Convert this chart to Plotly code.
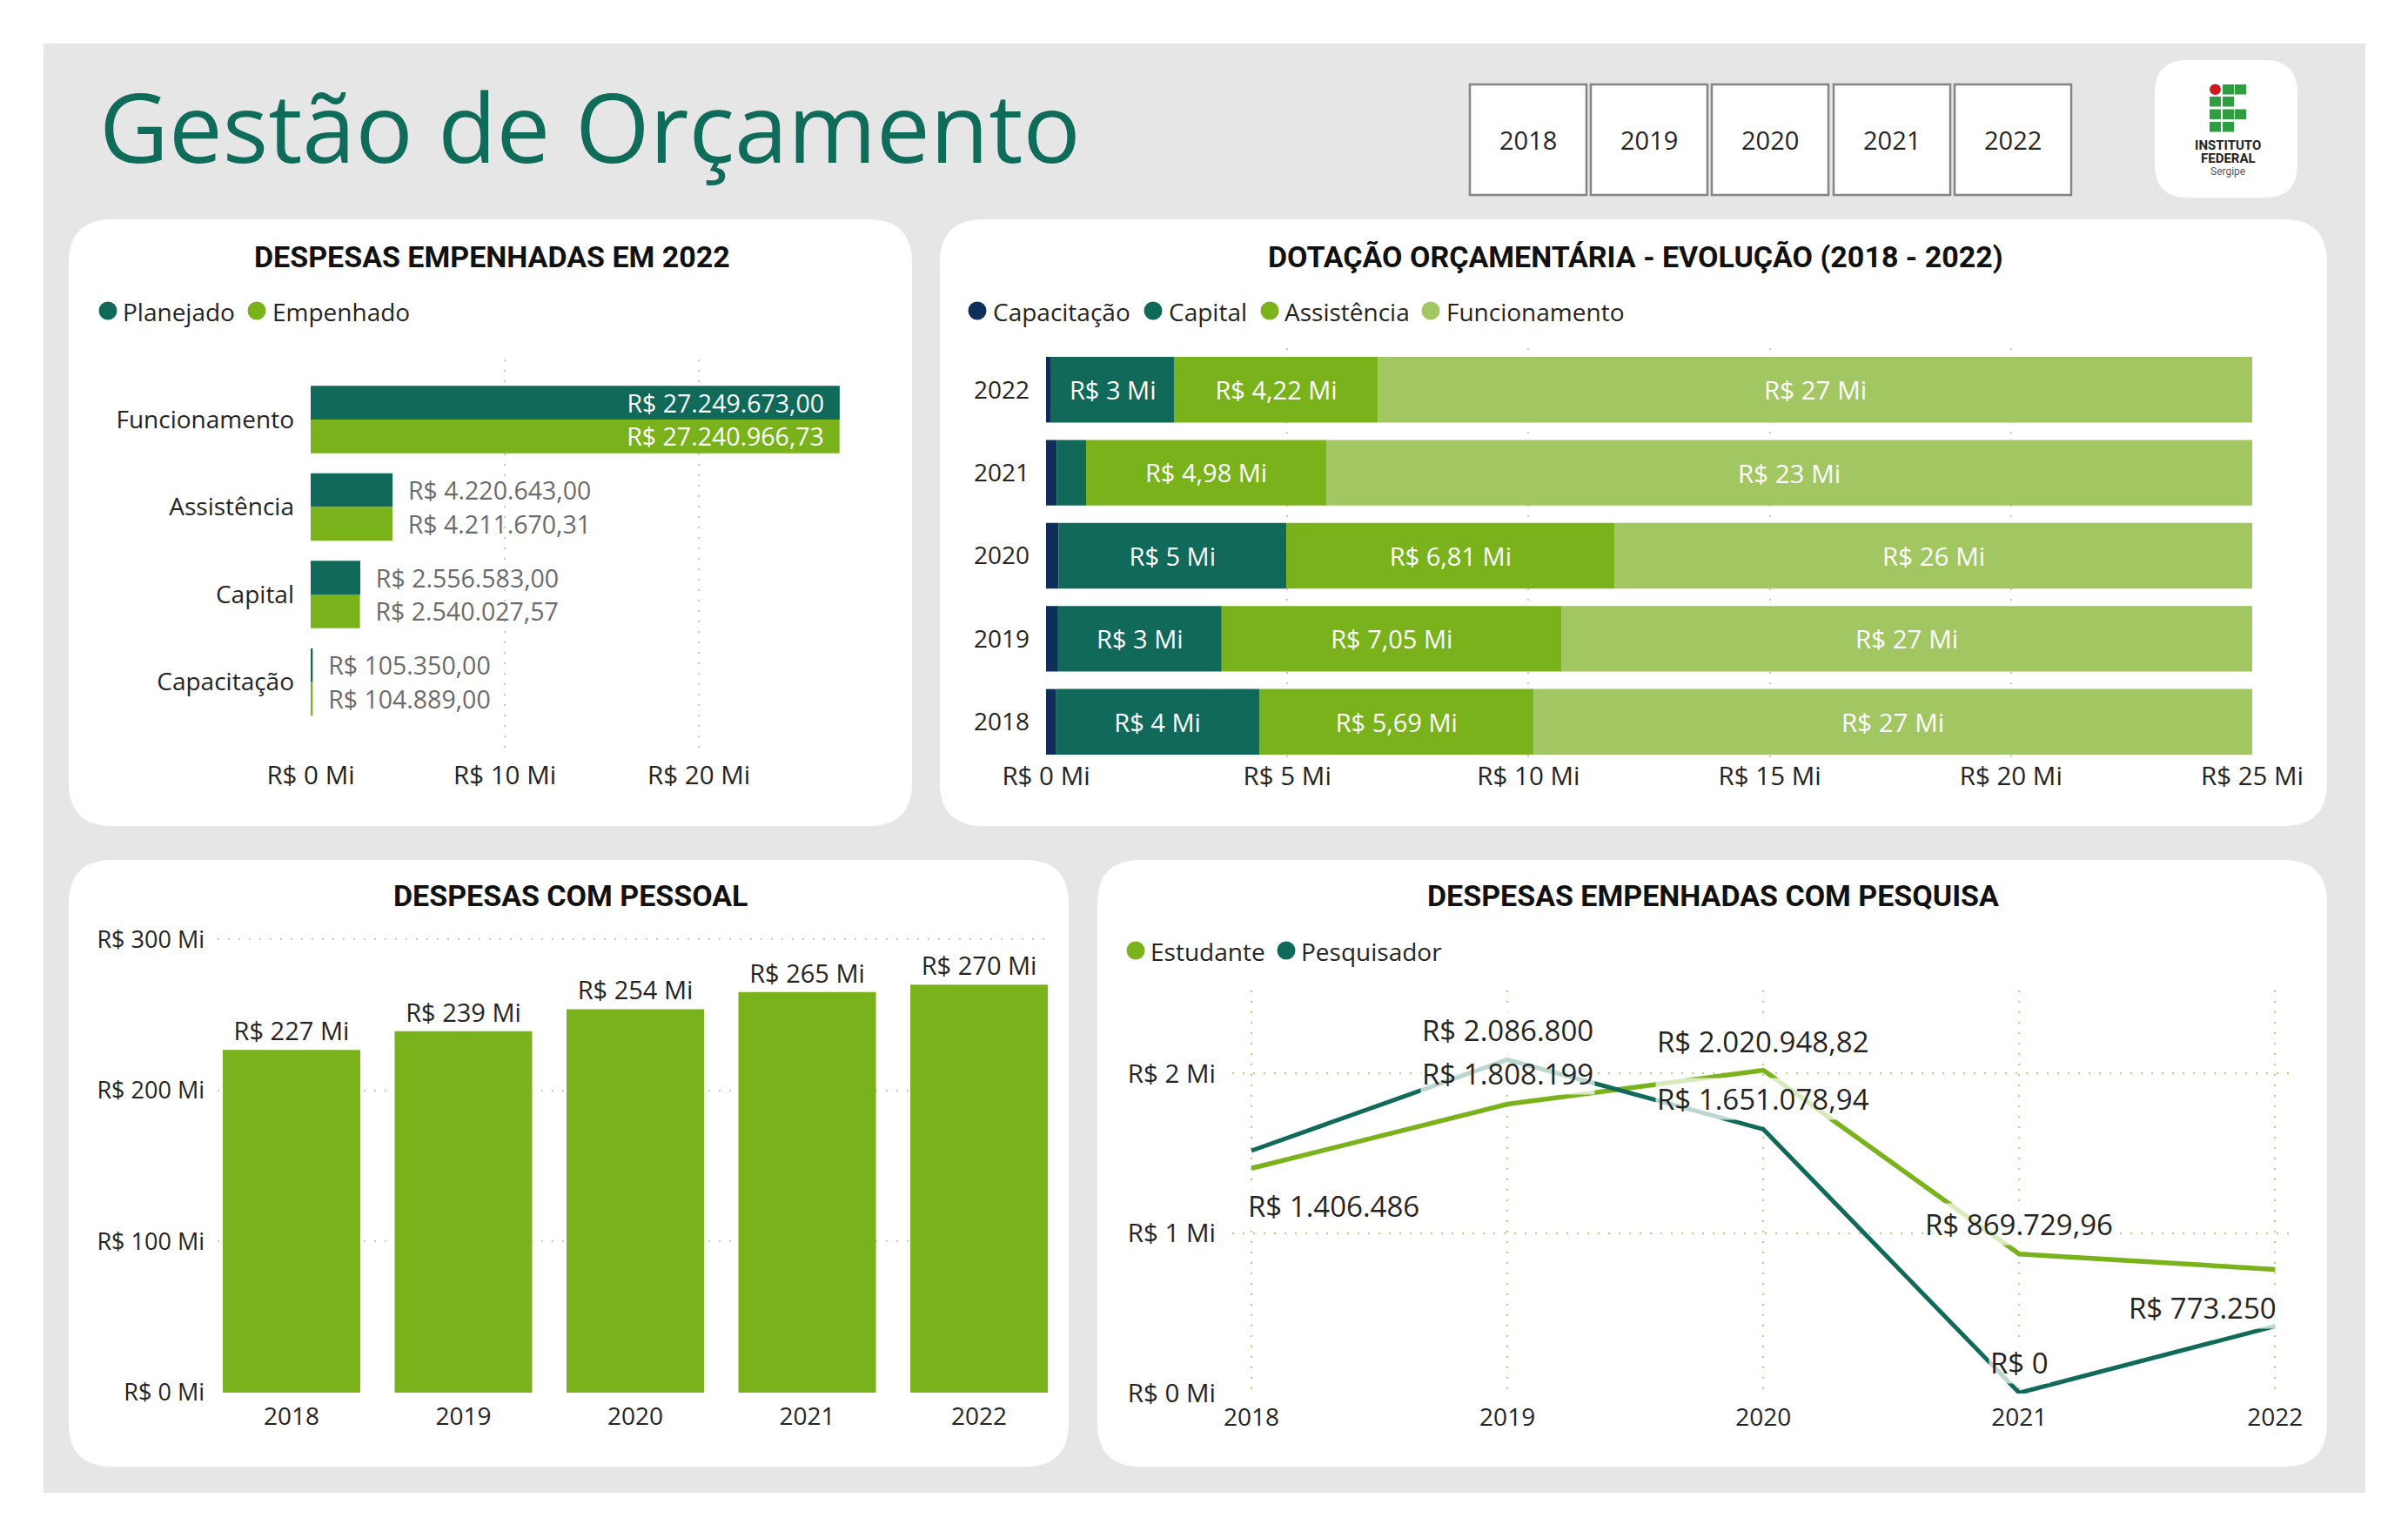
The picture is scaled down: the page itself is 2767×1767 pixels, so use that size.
import plotly.graph_objects as go
import numpy as np

W, H = 2767, 1767

# ------------------------------------------------------------------ DATA
years = [2018, 2019, 2020, 2021, 2022]
year_labels = ["2018", "2019", "2020", "2021", "2022"]

# Despesas empenhadas em 2022 (R$)
cat_empenho = ["Funcionamento", "Assistência", "Capital", "Capacitação"]
planejado_2022 = [27249673.00, 4220643.00, 2556583.00, 105350.00]
empenhado_2022 = [27240966.73, 4211670.31, 2540027.57, 104889.00]
ticks_empenho = [0, 10e6, 20e6]
ticklbl_empenho = ["R$ 0 Mi", "R$ 10 Mi", "R$ 20 Mi"]

# Dotação orçamentária - evolução (R$ Mi)
dot_capacitacao = [0.20, 0.25, 0.26, 0.22, 0.105]
dot_capital = [4.22, 3.39, 4.72, 0.61, 2.557]
dot_assistencia = [5.69, 7.05, 6.81, 4.98, 4.22]
dot_funcionamento = [27.1, 26.9, 26.2, 23.1, 27.25]
dot_axis_max = 25
ticks_dot = [0, 5, 10, 15, 20, 25]
ticklbl_dot = ["R$ 0 Mi", "R$ 5 Mi", "R$ 10 Mi", "R$ 15 Mi", "R$ 20 Mi", "R$ 25 Mi"]

# Despesas com pessoal (R$ Mi)
pessoal = [227.0, 239.3, 253.9, 265.2, 270.2]
ticks_pessoal = [0, 100, 200, 300]
ticklbl_pessoal = ["R$ 0 Mi", "R$ 100 Mi", "R$ 200 Mi", "R$ 300 Mi"]

# Despesas empenhadas com pesquisa (R$)
estudante = [1406486, 1808199, 2020948.82, 869729.96, 773250]
pesquisador = [1517000, 2086800, 1651078.94, 0, 418000]
ticks_pesquisa = [0, 1e6, 2e6]
ticklbl_pesquisa = ["R$ 0 Mi", "R$ 1 Mi", "R$ 2 Mi"]

# ------------------------------------------------------------------ STYLE
TEAL = "#116959"
NAVY = "#0f2e5a"
LIME = "#7ab21b"
LIGHT = "#a2c662"
TXT = "#252423"
GRAYTXT = "#6b6b6b"
GRID = "#c8c8c8"
GRID_G = "#b0d47a"
BODY = "Open Sans, Noto Sans, sans-serif"
HEAD = "Roboto, sans-serif"


def px(x):
    return x / W


def py(y):
    return 1 - y / H


def brl(v, dec=None):
    if dec is None:
        dec = 0 if float(v) == int(v) else 2
    s = f"{v:,.{dec}f}"
    s = s.replace(",", "#").replace(".", ",").replace("#", ".")
    return "R$ " + s


def mi(v, dec):
    return "R$ " + f"{v:.{dec}f}".replace(".", ",") + " Mi"


def rrect(x0, y0, x1, y1, r):
    p = [
        f"M{px(x0 + r)},{py(y0)}", f"L{px(x1 - r)},{py(y0)}",
        f"Q{px(x1)},{py(y0)} {px(x1)},{py(y0 + r)}", f"L{px(x1)},{py(y1 - r)}",
        f"Q{px(x1)},{py(y1)} {px(x1 - r)},{py(y1)}", f"L{px(x0 + r)},{py(y1)}",
        f"Q{px(x0)},{py(y1)} {px(x0)},{py(y1 - r)}", f"L{px(x0)},{py(y0 + r)}",
        f"Q{px(x0)},{py(y0)} {px(x0 + r)},{py(y0)}", "Z",
    ]
    return " ".join(p)


def ptext(x, y, text, size, color=TXT, family=BODY, weight=400, xanchor="center"):
    return dict(x=px(x), y=py(y), xref="paper", yref="paper", text=text, showarrow=False,
                xanchor=xanchor, yanchor="middle",
                font=dict(color=color, size=size, family=family, weight=weight))


fig = go.Figure()

# ------------------------------------------------------------------ CHART 1
NB = "\u00a0\u00a0"
pos1 = ["inside"] + ["outside"] * 3
for vals, col, off in [(planejado_2022, TEAL, -0.385), (empenhado_2022, LIME, 0.0)]:
    txt = [brl(v, 2) + NB if i == 0 else NB + brl(v, 2) for i, v in enumerate(vals)]
    fig.add_trace(go.Bar(
        y=cat_empenho, x=vals, orientation="h", xaxis="x", yaxis="y",
        width=0.385, offset=off, marker=dict(color=col, line=dict(width=0)),
        text=txt, textposition=pos1, insidetextanchor="end", textangle=0,
        constraintext="none",
        insidetextfont=dict(color="white", size=28.5, family=BODY),
        outsidetextfont=dict(color=GRAYTXT, size=28.5, family=BODY),
        hoverinfo="skip"))

# ------------------------------------------------------------------ CHART 2
series2 = [("Capacitação", dot_capacitacao, NAVY, None),
           ("Capital", dot_capital, TEAL, 0),
           ("Assistência", dot_assistencia, LIME, 2),
           ("Funcionamento", dot_funcionamento, LIGHT, None)]
base = np.zeros(len(years))
fun_ann = []
for name, vals, col, dec in series2:
    vals = np.array(vals, dtype=float)
    txt = [mi(v, dec) for v in vals] if dec is not None else None
    fig.add_trace(go.Bar(
        y=years, x=vals, base=base.copy(), orientation="h", xaxis="x2", yaxis="y2",
        width=0.79, marker=dict(color=col, line=dict(width=0)), name=name,
        text=txt, textposition="inside" if txt else "none",
        insidetextanchor="middle", textangle=0,
        insidetextfont=dict(color="white", size=29.5, family=BODY),
        hoverinfo="skip"))
    if name == "Funcionamento":
        for yv, b, v in zip(years, base, vals):
            vis_end = min(b + v, dot_axis_max)
            fun_ann.append(dict(x=float((b + vis_end) / 2), y=yv, xref="x2", yref="y2",
                                text=mi(v, 0), showarrow=False, xanchor="center", yanchor="middle",
                                font=dict(color="white", size=29.5, family=BODY)))
    base = base + vals

# ------------------------------------------------------------------ CHART 3
fig.add_trace(go.Bar(
    x=years, y=pessoal, xaxis="x3", yaxis="y3", width=0.8,
    marker=dict(color=LIME, line=dict(width=0)),
    text=[mi(v, 0) for v in pessoal], textposition="outside", textangle=0,
    outsidetextfont=dict(color=TXT, size=29, family=BODY), cliponaxis=False,
    hoverinfo="skip"))

# ------------------------------------------------------------------ CHART 4
fig.add_trace(go.Scatter(x=years, y=estudante, xaxis="x4", yaxis="y4", mode="lines",
                         line=dict(color=LIME, width=5.5), name="Estudante", hoverinfo="skip"))
fig.add_trace(go.Scatter(x=years, y=pesquisador, xaxis="x4", yaxis="y4", mode="lines",
                         line=dict(color=TEAL, width=5), name="Pesquisador", hoverinfo="skip"))

label_specs = [  # (series, index, xanchor, yanchor, xshift, yshift)
    (pesquisador, 1, "center", "bottom", 0, 9),
    (estudante, 1, "center", "bottom", 0, 11),
    (estudante, 2, "center", "bottom", 0, 9),
    (pesquisador, 2, "center", "bottom", 0, 10),
    (estudante, 0, "left", "top", -6, -19),
    (estudante, 3, "center", "bottom", 0, 10),
    (pesquisador, 3, "center", "bottom", 0, 10),
    (estudante, 4, "right", "top", 4, -20),
]
line_ann = []
for ser, i, xa, ya, xs, ys in label_specs:
    line_ann.append(dict(x=years[i], y=ser[i], xref="x4", yref="y4", text=brl(ser[i]),
                         showarrow=False, xanchor=xa, yanchor=ya, xshift=xs, yshift=ys,
                         bgcolor="rgba(255,255,255,0.72)", borderpad=1,
                         font=dict(color=TXT, size=33, family=BODY)))

# ------------------------------------------------------------------ SHAPES
shapes = []
shapes.append(dict(type="rect", xref="paper", yref="paper", x0=px(50), x1=px(2718),
                   y0=py(1715), y1=py(50), fillcolor="#e6e6e6", line=dict(width=0), layer="below"))
for (x0, y0, x1, y1) in [(79, 252, 1048, 949), (1080, 252, 2674, 949),
                         (79, 988, 1228, 1685), (1261, 988, 2674, 1685)]:
    shapes.append(dict(type="path", xref="paper", yref="paper", path=rrect(x0, y0, x1, y1, 50),
                       fillcolor="white", line=dict(width=0), layer="below"))
# year slicer buttons
btn_x = [1689, 1828, 1967, 2107, 2246]
for bx in btn_x:
    shapes.append(dict(type="rect", xref="paper", yref="paper", x0=px(bx), x1=px(bx + 134),
                       y0=py(224), y1=py(97), fillcolor="white",
                       line=dict(color="#858585", width=2.5), layer="below"))
# logo
shapes.append(dict(type="path", xref="paper", yref="paper", path=rrect(2476, 69, 2640, 227, 38),
                   fillcolor="white", line=dict(width=0), layer="below"))
cols = [2539, 2554, 2568]
rows = [97, 111, 125.5, 140]
pattern = [[2, 1, 1], [1, 1, 0], [1, 1, 1], [1, 1, 0]]
for r, row in enumerate(pattern):
    for c, v in enumerate(row):
        if v == 0:
            continue
        x0, y0 = cols[c], rows[r]
        if v == 2:
            shapes.append(dict(type="circle", xref="paper", yref="paper", x0=px(x0), x1=px(x0 + 13),
                               y0=py(y0 + 12), y1=py(y0 - 0.5), fillcolor="#cd1a1f",
                               line=dict(width=0), layer="below"))
        else:
            shapes.append(dict(type="rect", xref="paper", yref="paper", x0=px(x0), x1=px(x0 + 13),
                               y0=py(y0 + 11.5), y1=py(y0), fillcolor="#2f9e41",
                               line=dict(width=0), layer="below"))

# legend markers + labels
legend_items = [  # (circle center x, text x, y, color, label)
    (124, 139, 357, TEAL, "Planejado"), (295, 311, 357, LIME, "Empenhado"),
    (1123, 1139, 357, NAVY, "Capacitação"), (1325, 1341, 357, TEAL, "Capital"),
    (1459, 1474, 357, LIME, "Assistência"), (1644, 1660, 357, LIGHT, "Funcionamento"),
    (1305, 1320, 1092, LIME, "Estudante"), (1478, 1493, 1092, TEAL, "Pesquisador"),
]
annotations = []
for cx, tx, cy, col, lab in legend_items:
    shapes.append(dict(type="circle", xref="paper", yref="paper", x0=px(cx - 10.5), x1=px(cx + 10.5),
                       y0=py(cy + 10.5), y1=py(cy - 10.5), fillcolor=col, line=dict(width=0)))
    annotations.append(ptext(tx, cy + 1, lab, 28, xanchor="left"))

# ------------------------------------------------------------------ TEXT
annotations.append(ptext(112, 144, "Gestão de Orçamento", 110, color="#0f6b5a", xanchor="left"))
for bx, yr in zip(btn_x, year_labels):
    annotations.append(ptext(bx + 67, 161, yr, 29))
for t, y, sz, col, wt in [("INSTITUTO", 167, 15, "#222222", 700), ("FEDERAL", 181.5, 15, "#222222", 700),
                          ("Sergipe", 197, 12, "#555555", 400)]:
    annotations.append(ptext(2560, y, t, sz, color=col, family=HEAD, weight=wt))
for t, cx, cy in [("DESPESAS EMPENHADAS EM 2022", 565, 295),
                  ("DOTAÇÃO ORÇAMENTÁRIA - EVOLUÇÃO (2018 - 2022)", 1879, 295),
                  ("DESPESAS COM PESSOAL", 656, 1029),
                  ("DESPESAS EMPENHADAS COM PESQUISA", 1969, 1029)]:
    annotations.append(ptext(cx, cy, t, 34, color="#111111", family=HEAD, weight=700))
annotations += fun_ann + line_ann

tickfont = dict(color=TXT, size=28, family=BODY)
numfont = dict(color=TXT, size=29.5, family=BODY)
gridkw = dict(showgrid=True, gridcolor=GRID, gridwidth=2, griddash="2px,10px")
gridg = dict(showgrid=True, gridcolor=GRID_G, gridwidth=2, griddash="2px,10px")
common = dict(zeroline=False, showline=False, ticks="", fixedrange=True, automargin=False)

fig.update_layout(
    width=W, height=H, autosize=False,
    margin=dict(l=0, r=0, t=0, b=0, pad=0, autoexpand=False),
    paper_bgcolor="white", plot_bgcolor="rgba(0,0,0,0)",
    showlegend=False, barmode="overlay", separators=",.",
    uniformtext=dict(minsize=24, mode="hide"),
    shapes=shapes, annotations=annotations,
    xaxis=dict(domain=[px(357), px(966)], range=[0, 27.3e6], tickvals=ticks_empenho,
               ticktext=ticklbl_empenho, anchor="y", ticklabelstandoff=4, tickfont=numfont,
               **gridkw, **common),
    yaxis=dict(domain=[py(866), py(413)], type="category", categoryorder="array",
               categoryarray=cat_empenho, range=[3.82, -0.687], anchor="x", showgrid=False,
               ticklabelstandoff=18, tickfont=tickfont, **common),
    xaxis2=dict(domain=[px(1202), px(2588)], range=[0, dot_axis_max], tickvals=ticks_dot,
                ticktext=ticklbl_dot, anchor="y2", ticklabelstandoff=-6, tickfont=numfont,
                **gridkw, **common),
    yaxis2=dict(domain=[py(877), py(400)], type="linear", range=[2017.5, 2022.5],
                tickvals=years, ticktext=year_labels, anchor="x2", showgrid=False,
                ticklabelstandoff=18, tickfont=tickfont, **common),
    xaxis3=dict(domain=[px(250), px(1210)], type="linear", range=[2017.57, 2022.43],
                tickvals=years, ticktext=year_labels, anchor="y3", showgrid=False,
                ticklabelstandoff=8, tickfont=tickfont, **common),
    yaxis3=dict(domain=[py(1600), py(1076)], range=[0, 302], tickvals=ticks_pessoal,
                ticktext=ticklbl_pessoal, anchor="x3", ticklabelstandoff=14,
                tickfont=dict(color=TXT, size=27, family=BODY), **gridkw, **common),
    xaxis4=dict(domain=[px(1416), px(2632)], type="linear", range=[2017.925, 2022.06],
                tickvals=years, ticktext=year_labels, anchor="y4",
                ticklabelstandoff=8, tickfont=tickfont, **gridg, **common),
    yaxis4=dict(domain=[py(1601), py(1138)], range=[-0.004e6, 2.52e6], tickvals=ticks_pesquisa,
                ticktext=ticklbl_pesquisa, anchor="x4", ticklabelstandoff=18, tickfont=numfont,
                **gridg, **common),
)

fig.write_html("out.html", config={"displayModeBar": False},
               post_script="document.body.style.margin='0';document.body.style.overflow='hidden';")
